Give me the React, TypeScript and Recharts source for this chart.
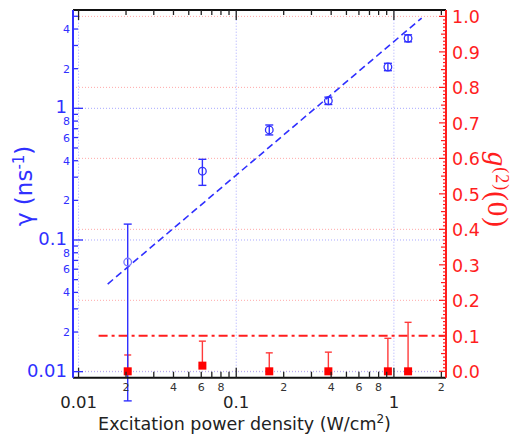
import React from 'react';
import { ComposedChart, Scatter, XAxis, YAxis, ErrorBar, ReferenceLine, Label } from 'recharts';

// ---------- data ----------
const excitation = [0.0205, 0.061, 0.162, 0.384, 0.916, 1.23];
const gammaValues = [0.068, 0.333, 0.685, 1.14, 2.06, 3.4];
const gammaErrLow = [0.062, 0.073, 0.057, 0.071, 0.129, 0.201];
const gammaErrHigh = [0.064, 0.077, 0.062, 0.076, 0.137, 0.214];
const g2Values = [0.0, 0.016, 0.0, 0.0, 0.0, 0.0];
const g2ErrHigh = [0.046, 0.069, 0.052, 0.054, 0.093, 0.138];
const fitX = [0.0153, 1.5];
const fitY = [0.0463, 4.85];
const thresholdX = [0.0134, 2.14];
const thresholdY = 0.1;

const xTickValues = [0.01, 0.02, 0.03, 0.04, 0.05, 0.06, 0.07, 0.08, 0.09, 0.1, 0.2, 0.3, 0.4, 0.5, 0.6, 0.7, 0.8, 0.9, 1, 2];
const xTickLabels = ['0.01', '2', '', '4', '', '6', '', '8', '', '0.1', '2', '', '4', '', '6', '', '8', '', '1', '2'];
const xMajorTicks = [0.01, 0.1, 1];

const yLeftTickValues = [0.01, 0.02, 0.03, 0.04, 0.05, 0.06, 0.07, 0.08, 0.09, 0.1, 0.2, 0.3, 0.4, 0.5, 0.6, 0.7, 0.8, 0.9, 1, 2, 3, 4, 5];
const yLeftTickLabels = ['0.01', '2', '', '4', '', '6', '', '8', '', '0.1', '2', '', '4', '', '6', '', '8', '', '1', '2', '', '4', ''];
const yLeftMajorTicks = [0.01, 0.1, 1];

const yRightTickValues = Array.from({ length: 101 }, (_, i) => i / 100);
const yRightMajorTicks = [0, 0.1, 0.2, 0.3, 0.4, 0.5, 0.6, 0.7, 0.8, 0.9, 1.0];
const yRightMajorLabels = ['0.0', '0.1', '0.2', '0.3', '0.4', '0.5', '0.6', '0.7', '0.8', '0.9', '1.0'];
const yRightGrid = [0, 0.2, 0.4, 0.6, 0.8, 1.0];
const blueGridX = [0.01, 0.1, 1];
const blueGridY = [0.01, 0.1, 1];

const xDomain = [0.00922, 2.14];
const yLeftDomain = [0.009, 5.58];
const yRightDomain = [-0.018, 1.018];

// ---------- built tables ----------
const gammaData = excitation.map((x, i) => ({ x, y: gammaValues[i], err: [gammaErrLow[i], gammaErrHigh[i]] }));
const g2Data = excitation.map((x, i) => ({ x, y: g2Values[i], err: [0, g2ErrHigh[i]] }));

const BLUE = '#3030ff';
const RED = '#ff1e1e';
const FONT = '"DejaVu Sans", Verdana, sans-serif';

const near = (a: number, b: number) => Math.abs(a - b) <= 1e-6 * Math.max(Math.abs(a), Math.abs(b), 1e-9);
const idxOf = (arr: number[], v: number) => arr.findIndex((a) => near(a, v));

const BottomTick = (props: any) => {
  const { x, y, payload } = props;
  const v = payload.value;
  const i = idxOf(xTickValues, v);
  const label = i >= 0 ? xTickLabels[i] : '';
  const major = idxOf(xMajorTicks, v) >= 0;
  const len = major ? 10 : 6;
  return (
    <g>
      <line x1={x} x2={x} y1={y} y2={y - len} stroke="#222" strokeWidth={1.3} />
      {label && !major && (
        <text x={x} y={y + 13.5} textAnchor="middle" fontSize={11} fill="#333" fontFamily={FONT}>{label}</text>
      )}
      {label && major && (
        <text x={x} y={y + 30.5} textAnchor="middle" fontSize={16.5} fill="#222" fontFamily={FONT}>{label}</text>
      )}
    </g>
  );
};

const TopTick = (props: any) => {
  const { x, y, payload } = props;
  const major = idxOf(xMajorTicks, payload.value) >= 0;
  const len = major ? 10 : 5;
  return <line x1={x} x2={x} y1={y} y2={y + len} stroke="#222" strokeWidth={1.3} />;
};

const LeftTick = (props: any) => {
  const { x, y, payload } = props;
  const v = payload.value;
  const i = idxOf(yLeftTickValues, v);
  const label = i >= 0 ? yLeftTickLabels[i] : '';
  const major = idxOf(yLeftMajorTicks, v) >= 0;
  const len = major ? 10 : 5;
  return (
    <g>
      <line x1={x} x2={x + len} y1={y} y2={y} stroke={BLUE} strokeWidth={1.3} />
      {label && !major && (
        <text x={x - 3} y={y + 4} textAnchor="end" fontSize={11} fill={BLUE} fontFamily={FONT}>{label}</text>
      )}
      {label && major && (
        <text x={x - 6} y={y + 5} textAnchor="end" fontSize={18} fill={BLUE} fontFamily={FONT}>{label}</text>
      )}
    </g>
  );
};

const RightTick = (props: any) => {
  const { x, y, payload } = props;
  const v = payload.value;
  const mi = idxOf(yRightMajorTicks, v);
  const half = Math.round(v * 100) % 5 === 0;
  const len = mi >= 0 ? 7 : half ? 5 : 3;
  return (
    <g>
      <line x1={x - len} x2={x} y1={y} y2={y} stroke={RED} strokeWidth={1.2} />
      {mi >= 0 && (
        <text x={x + 6} y={y + 7} textAnchor="start" fontSize={17.5} fill={RED} fontFamily={FONT}>{yRightMajorLabels[mi]}</text>
      )}
    </g>
  );
};

const CircleShape = (props: any) => {
  const { cx, cy, index } = props;
  if (cx == null || cy == null) return <g />;
  return <circle cx={cx} cy={cy} r={3.8} fill="none" stroke={index === 0 ? '#7a7aff' : BLUE} strokeWidth={1.3} />;
};

const SquareShape = (props: any) => {
  const { cx, cy } = props;
  if (cx == null || cy == null) return <g />;
  return <rect x={cx - 4} y={cy - 4} width={8} height={8} fill="#ff0000" />;
};

const LeftTitle = (props: any) => {
  const vb = props.viewBox || { x: 0, y: 10, width: 73, height: 368 };
  const cx = vb.x + 32;
  const cy = vb.y + vb.height / 2 - 8;
  return (
    <text transform={`rotate(-90 ${cx} ${cy})`} x={cx} y={cy} textAnchor="middle" fontSize={23} fill={BLUE} fontFamily={FONT}>
      γ (ns<tspan dy={-8} fontSize={15}>-1</tspan><tspan dy={8}>)</tspan>
    </text>
  );
};

const RightTitle = (props: any) => {
  const vb = props.viewBox || { x: 446, y: 10, width: 72, height: 368 };
  const cx = vb.x + 42;
  const cy = vb.y + vb.height / 2 - 4;
  return (
    <text transform={`rotate(90 ${cx} ${cy})`} x={cx} y={cy} textAnchor="middle" fontSize={29} fill={RED} fontFamily='"Liberation Serif", "DejaVu Serif", serif' letterSpacing={1}>
      <tspan fontStyle="italic">g</tspan>
      <tspan dy={-8} fontSize={18}>(2)</tspan>
      <tspan dy={8}>(0)</tspan>
    </text>
  );
};

const BottomTitle = (props: any) => {
  const vb = props.viewBox || { x: 73, y: 378, width: 373, height: 57 };
  const cx = vb.x + vb.width / 2 - 15;
  const cy = vb.y + 52;
  return (
    <text x={cx} y={cy} textAnchor="middle" fontSize={17.5} fill="#222" fontFamily={FONT}>
      Excitation power density (W/cm<tspan dy={-7} fontSize={12}>2</tspan><tspan dy={7}>)</tspan>
    </text>
  );
};

export default function App() {
  return (
    <div style={{ position: 'absolute', left: 0, top: 0, background: '#fff' }}>
      <ComposedChart width={518} height={435} margin={{ top: 9, right: 0, bottom: 0, left: 0 }}>
        <XAxis
          xAxisId="b"
          dataKey="x"
          type="number"
          scale="log"
          domain={xDomain}
          allowDataOverflow
          ticks={xTickValues}
          interval={0}
          tickSize={0}
          tickMargin={0}
          tickLine={false}
          tick={<BottomTick />}
          axisLine={{ stroke: '#111', strokeWidth: 2 }}
          height={57.3}
        >
          <Label content={<BottomTitle />} />
        </XAxis>
        <XAxis
          xAxisId="t"
          orientation="top"
          dataKey="x"
          type="number"
          scale="log"
          domain={xDomain}
          allowDataOverflow
          ticks={xTickValues}
          interval={0}
          tickSize={0}
          tickMargin={0}
          tickLine={false}
          tick={<TopTick />}
          axisLine={{ stroke: '#111', strokeWidth: 2 }}
          height={1}
        />
        <YAxis
          yAxisId="l"
          dataKey="y"
          type="number"
          scale="log"
          domain={yLeftDomain}
          allowDataOverflow
          ticks={yLeftTickValues}
          interval={0}
          tickSize={0}
          tickMargin={0}
          tickLine={false}
          tick={<LeftTick />}
          axisLine={{ stroke: BLUE, strokeWidth: 2 }}
          width={73}
        >
          <Label content={<LeftTitle />} />
        </YAxis>
        <YAxis
          yAxisId="r"
          orientation="right"
          dataKey="y"
          type="number"
          domain={yRightDomain}
          allowDataOverflow
          ticks={yRightTickValues}
          interval={0}
          tickSize={0}
          tickMargin={0}
          tickLine={false}
          tick={<RightTick />}
          axisLine={{ stroke: RED, strokeWidth: 2 }}
          width={72}
        >
          <Label content={<RightTitle />} />
        </YAxis>

        {yRightGrid.map((v) => (
          <ReferenceLine key={'pg' + v} xAxisId="b" yAxisId="r" y={v} stroke="#ffa8a8" strokeDasharray="1 2" strokeWidth={1} ifOverflow="hidden" />
        ))}
        {blueGridY.map((v) => (
          <ReferenceLine key={'bgy' + v} xAxisId="b" yAxisId="l" y={v} stroke="#a8a8ff" strokeDasharray="1 2" strokeWidth={1} ifOverflow="hidden" />
        ))}
        {blueGridX.map((v) => (
          <ReferenceLine key={'bgx' + v} xAxisId="b" yAxisId="l" x={v} stroke="#a8a8ff" strokeDasharray="1 2" strokeWidth={1} ifOverflow="hidden" />
        ))}

        <ReferenceLine
          xAxisId="b"
          yAxisId="l"
          segment={[{ x: fitX[0], y: fitY[0] }, { x: fitX[1], y: fitY[1] }]}
          stroke={BLUE}
          strokeWidth={1.6}
          strokeDasharray="7 4"
          ifOverflow="hidden"
        />
        <ReferenceLine
          xAxisId="b"
          yAxisId="r"
          segment={[{ x: thresholdX[0], y: thresholdY }, { x: thresholdX[1], y: thresholdY }]}
          stroke={RED}
          strokeWidth={2}
          strokeDasharray="9 4 3 4"
          ifOverflow="hidden"
        />

        <Scatter data={g2Data} xAxisId="b" yAxisId="r" dataKey="y" shape={<SquareShape />} isAnimationActive={false}>
          <ErrorBar dataKey="err" direction="y" width={3.5} stroke="#ff3a3a" strokeWidth={1.4} />
        </Scatter>
        <Scatter data={gammaData} xAxisId="b" yAxisId="l" dataKey="y" shape={<CircleShape />} isAnimationActive={false}>
          <ErrorBar dataKey="err" direction="y" width={4} stroke={BLUE} strokeWidth={1.4} />
        </Scatter>
      </ComposedChart>
    </div>
  );
}
